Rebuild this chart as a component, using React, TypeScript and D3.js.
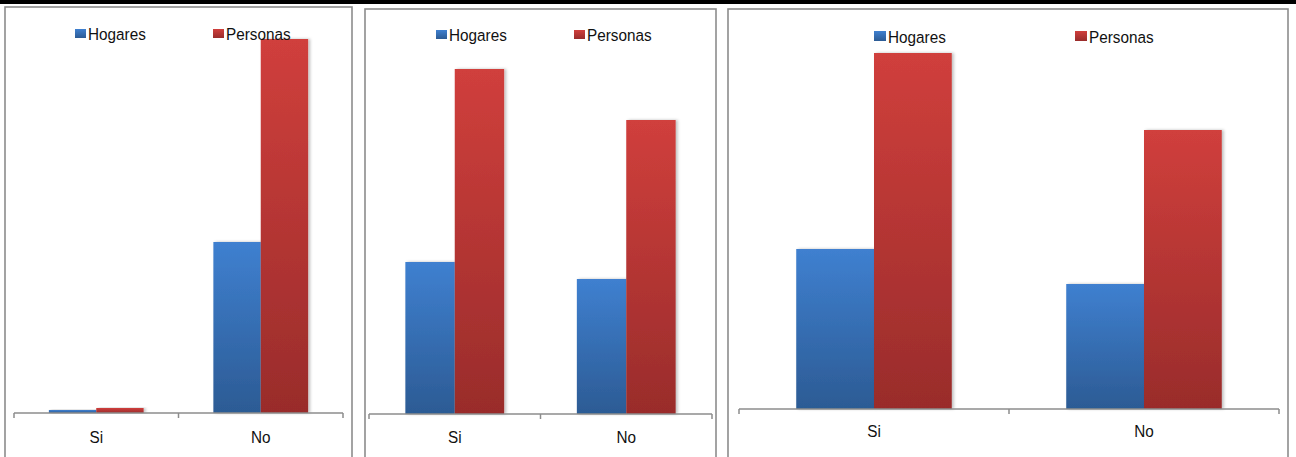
import React from "react";
import * as d3 from "d3";

const categories = ["Si", "No"];
const seriesNames = ["Hogares", "Personas"];

// Panel 1 values
const p1Hogares = [30, 1710];
const p1Personas = [50, 3740];
// Panel 2 values
const p2Hogares = [1520, 1350];
const p2Personas = [3450, 2940];
// Panel 3 values
const p3Hogares = [1600, 1250];
const p3Personas = [3560, 2790];

const yMax = 4000;

const panels = [
  {
    frame: { x: 5, y: 7, w: 347, h: 470 },
    axis: { x0: 14, x1: 343, y: 413 },
    legend: { y: 29, sq: 10, xs: [75, 213] },
    labelDy: 30,
    values: [p1Hogares, p1Personas],
  },
  {
    frame: { x: 365, y: 9, w: 351, h: 470 },
    axis: { x0: 369, x1: 712, y: 414 },
    legend: { y: 30, sq: 10, xs: [436, 574] },
    labelDy: 29,
    values: [p2Hogares, p2Personas],
  },
  {
    frame: { x: 728, y: 9, w: 560, h: 470 },
    axis: { x0: 739, x1: 1279, y: 409 },
    legend: { y: 31, sq: 11, xs: [874, 1075] },
    labelDy: 28,
    values: [p3Hogares, p3Personas],
  },
];

const gradIds = ["gradBlue", "gradRed"];
const FONT = "'Liberation Sans', Arial, sans-serif";

function Panel({ p }: { p: (typeof panels)[number] }) {
  const x = d3
    .scaleBand<string>()
    .domain(categories)
    .range([p.axis.x0, p.axis.x1])
    .paddingInner(0)
    .paddingOuter(0);
  const xs = d3
    .scaleBand<string>()
    .domain(seriesNames)
    .range([0, x.bandwidth()])
    .paddingInner(0)
    .paddingOuter(0.736);
  const y = d3
    .scaleLinear()
    .domain([0, yMax])
    .range([p.axis.y, p.axis.y - 400]);
  const ticks = [p.axis.x0, ...categories.map((c) => (x(c) as number) + x.bandwidth()).slice(0, -1), p.axis.x1];
  return (
    <g>
      <rect
        x={p.frame.x}
        y={p.frame.y}
        width={p.frame.w}
        height={p.frame.h}
        fill="#fff"
        stroke="#8c8c8c"
        strokeWidth={1.6}
      />
      {seriesNames.map((s, si) =>
        categories.map((c, ci) => {
          const v = p.values[si][ci];
          const bx = (x(c) as number) + (xs(s) as number);
          return (
            <rect
              key={s + c}
              x={bx}
              y={y(v)}
              width={xs.bandwidth()}
              height={p.axis.y - y(v)}
              fill={`url(#${gradIds[si]})`}
              filter="url(#shadow)"
            />
          );
        })
      )}
      <line
        x1={p.axis.x0}
        x2={p.axis.x1}
        y1={p.axis.y}
        y2={p.axis.y}
        stroke="#8c8c8c"
        strokeWidth={1.5}
      />
      {ticks.map((t, i) => (
        <line
          key={i}
          x1={t}
          x2={t}
          y1={p.axis.y}
          y2={p.axis.y + 5}
          stroke="#8c8c8c"
          strokeWidth={1.5}
        />
      ))}
      {categories.map((c) => {
        const cx = (x(c) as number) + x.bandwidth() / 2;
        return (
          <text
            key={c}
            transform={`translate(${cx},${p.axis.y + p.labelDy}) scale(0.9,1)`}
            textAnchor="middle"
            fontFamily={FONT}
            fontSize={17}
            fill="#111"
          >
            {c}
          </text>
        );
      })}
      {seriesNames.map((s, si) => (
        <g key={s}>
          <rect
            x={p.legend.xs[si]}
            y={p.legend.y}
            width={p.legend.sq + 1}
            height={p.legend.sq - 1}
            fill={`url(#${gradIds[si]})`}
          />
          <text
            transform={`translate(${p.legend.xs[si] + p.legend.sq + 3},${p.legend.y + p.legend.sq + 1}) scale(0.9,1)`}
            fontFamily={FONT}
            fontSize={17}
            fill="#111"
          >
            {s}
          </text>
        </g>
      ))}
    </g>
  );
}

export default function App() {
  return (
    <svg
      width={1296}
      height={457}
      style={{ position: "absolute", left: 0, top: 0, display: "block", background: "#fff" }}
    >
      <defs>
        <linearGradient id="gradBlue" x1="0" y1="0" x2="0" y2="1">
          <stop offset="0" stopColor="#3f80d0" />
          <stop offset="1" stopColor="#2c5b94" />
        </linearGradient>
        <linearGradient id="gradRed" x1="0" y1="0" x2="0" y2="1">
          <stop offset="0" stopColor="#d03f3c" />
          <stop offset="1" stopColor="#992c2b" />
        </linearGradient>
        <filter id="shadow" x="-20%" y="-5%" width="140%" height="110%">
          <feDropShadow dx="2" dy="0" stdDeviation="1.5" floodColor="#000" floodOpacity="0.25" />
        </filter>
      </defs>
      <rect x={0} y={0} width={1296} height={457} fill="#fff" />
      <rect x={0} y={0} width={1296} height={4} fill="#000" />
      {panels.map((p, i) => (
        <Panel key={i} p={p} />
      ))}
    </svg>
  );
}
